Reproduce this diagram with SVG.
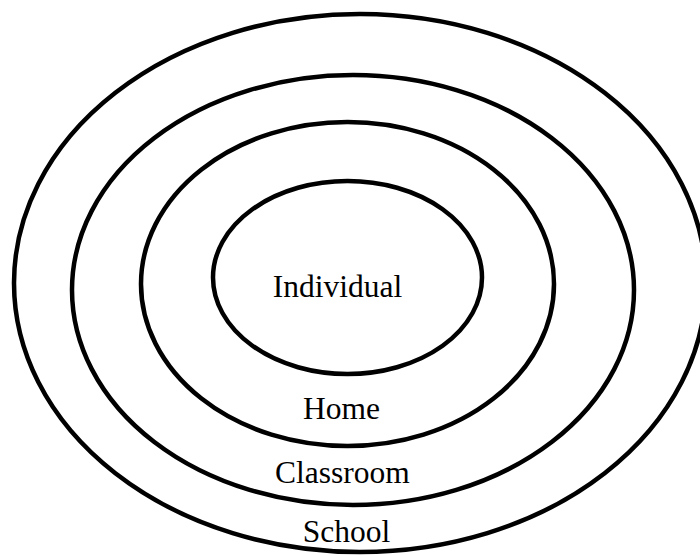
<svg xmlns="http://www.w3.org/2000/svg" width="700" height="555" viewBox="0 0 700 555">
<style>
.ring{fill:none;stroke:#000;stroke-width:4.5}
.lbl{font-family:"Liberation Serif","Times New Roman",serif;font-size:31.5px;fill:#000;text-anchor:middle}
</style>
<rect width="700" height="555" fill="#fff"/>
<g id="school"><ellipse class="ring" cx="360" cy="283" rx="346" ry="269"/><text class="lbl" x="346.5" y="542">School</text></g>
<g id="classroom"><ellipse class="ring" cx="353" cy="290" rx="281" ry="215"/><text class="lbl" x="342.5" y="483">Classroom</text></g>
<g id="home"><ellipse class="ring" cx="347.5" cy="284" rx="206.5" ry="162"/><text class="lbl" x="341.5" y="419">Home</text></g>
<g id="individual"><ellipse class="ring" cx="347.5" cy="277.5" rx="134.5" ry="96.5"/><text class="lbl" x="337.5" y="297">Individual</text></g>
<g id="connectors"/>
</svg>
